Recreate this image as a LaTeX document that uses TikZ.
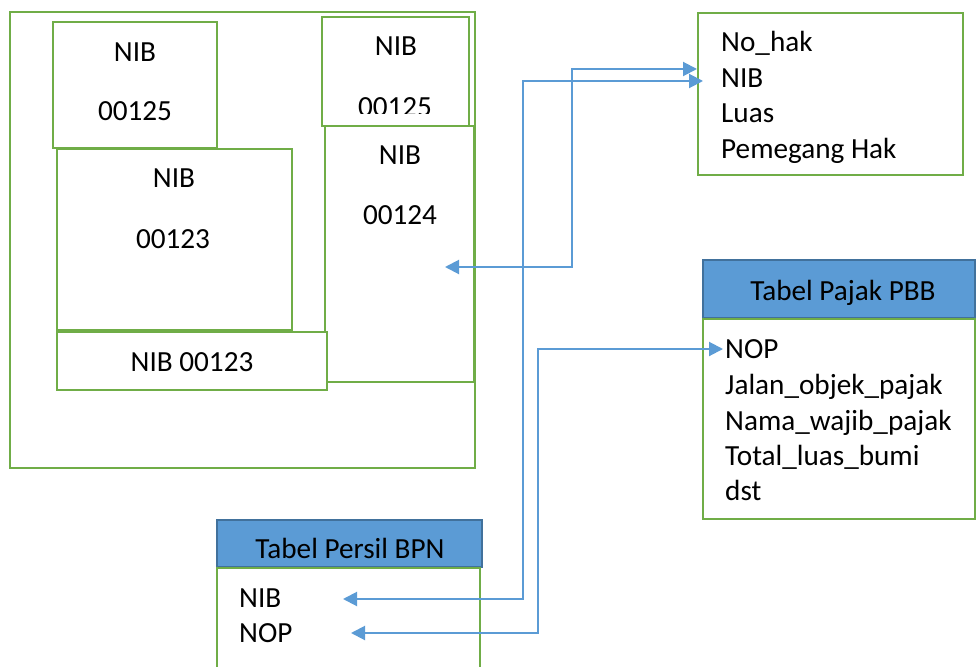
\documentclass[tikz,border=0pt]{standalone}
\usepackage{fontspec}
\setmainfont{Carlito}
\usetikzlibrary{arrows.meta}
\definecolor{lotgreen}{HTML}{70AD47}
\definecolor{linkblue}{HTML}{5B9BD5}
\definecolor{headborder}{HTML}{41719C}
\begin{document}
\begin{tikzpicture}[x=1pt,y=-1pt,
  lot/.style={draw=lotgreen, line width=2.2pt, fill=white, anchor=north west, inner sep=0pt, outer sep=0pt},
  headbar/.style={draw=headborder, line width=2.2pt, fill=linkblue, anchor=north west, inner sep=0pt, outer sep=0pt},
  lbl/.style={font=\fontsize{29.2}{35}\selectfont, inner sep=0pt, anchor=base},
  field/.style={lbl, anchor=base west},
  link/.style={draw=linkblue, line width=2pt,
    {Triangle[length=14pt,width=14pt]}-{Triangle[length=14pt,width=14pt]}}]

\useasboundingbox (0,0) rectangle (976,666);

% land parcel map
\node[lot, minimum width=465pt, minimum height=456pt] (outer) at (10,12) {};
\node[lot, minimum width=164pt, minimum height=126pt] (lotA) at (53,22) {};
\node[lot, minimum width=235pt, minimum height=181pt] (lotB) at (57,149) {};
\node[lot, minimum width=149pt, minimum height=256pt] (lotE) at (325,126) {};
\node[lot, minimum width=147pt, minimum height=109pt] (lotD) at (322,17) {};
\node[lot, minimum width=270pt, minimum height=58pt] (lotC) at (57,332) {};

\node[lbl] (aNib) at (135,62) {NIB};
\node[lbl] (aNum) at (135,121) {00125};
\node[lbl] (bNib) at (174,187) {NIB};
\node[lbl] (bNum) at (173,248) {00123};
\node[lbl] (cLbl) at (192,371) {NIB 00123};
\node[lbl] (dNib) at (396,56) {NIB};
\begin{scope}
  \clip (322,17) rectangle (469,114);
  \node[lbl] (dNum) at (395,116.5) {00125};
\end{scope}
\node[lbl] (eNib) at (400,164) {NIB};
\node[lbl] (eNum) at (400,224) {00124};

% land rights table
\node[lot, minimum width=265pt, minimum height=162pt] (hak) at (698,13) {};
\node[field] (hakNo) at (721,52) {No\_hak};
\node[field] (hakNib) at (721,88) {NIB};
\node[field] (hakLuas) at (721,123) {Luas};
\node[field] (hakPem) at (721,158) {Pemegang Hak};

% tax table
\node[headbar, minimum width=272pt, minimum height=58pt] (pbbHead) at (703,260) {};
\node[lot, minimum width=272pt, minimum height=200pt] (pbb) at (703,319) {};
\node[lbl] (pbbTitle) at (843,300) {Tabel Pajak PBB};
\node[field] (pbbNop) at (725,358) {NOP};
\node[field] (pbbJalan) at (725,394) {Jalan\_objek\_pajak};
\node[field] (pbbNama) at (725,430) {Nama\_wajib\_pajak};
\node[field] (pbbTotal) at (725,465) {Total\_luas\_bumi};
\node[field] (pbbDst) at (725,500) {dst};

% parcel table
\node[headbar, minimum width=265pt, minimum height=47pt] (bpnHead) at (217,520) {};
\node[lot, minimum width=263pt, minimum height=130pt] (bpn) at (217,568) {};
\node[lbl] (bpnTitle) at (350,558) {Tabel Persil BPN};
\node[field] (bpnNib) at (239,607) {NIB};
\node[field] (bpnNop) at (239,642) {NOP};

% connector end points
\coordinate (eTip) at (445,267);
\coordinate (hakTipA) at (697,69);
\coordinate (hakTipB) at (703,81);
\coordinate (bpnNibTip) at (343,599);
\coordinate (bpnNopTip) at (351,633);
\coordinate (pbbNopTip) at (723,349);

\draw[link] (eTip) -- ++(127,0) |- (hakTipA);
\draw[link] (bpnNibTip) -- ++(179.5,0) |- (hakTipB);
\draw[link] (bpnNopTip) -- ++(187,0) |- (pbbNopTip);
\end{tikzpicture}
\end{document}
